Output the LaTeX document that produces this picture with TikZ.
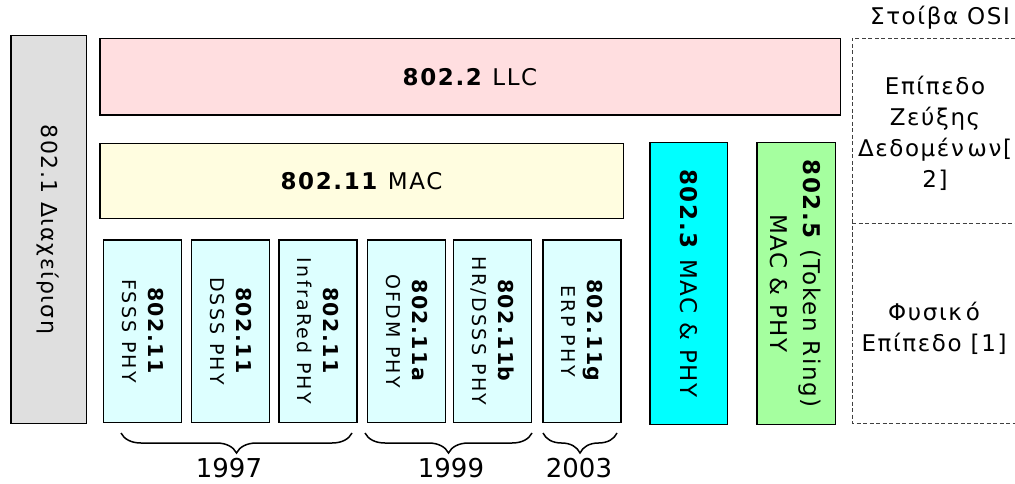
\documentclass[tikz,border=0pt]{standalone}
\usepackage{fontspec}
\setmainfont{DejaVu Sans}[LetterSpace=7]
\newfontfamily\subf{DejaVu Sans}[LetterSpace=12]
\newfontfamily\yearf{DejaVu Sans}
\usetikzlibrary{decorations.pathreplacing}
\definecolor{grayfill}{HTML}{DFDFDF}
\definecolor{llcfill}{HTML}{FFDEE0}
\definecolor{macfill}{HTML}{FFFDE0}
\definecolor{phyfill}{HTML}{DDFFFF}
\definecolor{ethfill}{HTML}{00FFFF}
\definecolor{tokfill}{HTML}{A5FF9F}
\begin{document}
\begin{tikzpicture}[x=1pt,y=-1pt,
  box/.style={draw=black, line width=1.5pt, inner sep=0pt, outer sep=0pt},
  phybox/.style={box, fill=phyfill, minimum width=78pt, minimum height=182.5pt},
  lbl/.style={font=\fontsize{23}{33}\selectfont, align=center, inner sep=0pt},
  vlbl/.style={lbl, rotate=-90},
  phylbl/.style={rotate=-90, align=center, inner sep=0pt, font=\fontsize{20.5}{26}\selectfont},
  ositxt/.style={font=\fontsize{23}{31}\selectfont, align=center, inner sep=0pt},
  osiline/.style={draw=black!75, line width=0.8pt, dash pattern=on 4pt off 2.5pt},
  yr/.style={font=\yearf\fontsize{26}{28}\selectfont, inner sep=0pt},
  brc/.style={decorate, decoration={brace, amplitude=20pt}, line width=1.5pt}
]
\useasboundingbox (0,0) rectangle (1015,484);

% boxes
\node[box, fill=grayfill, minimum width=75.5pt, minimum height=387.5pt] (mgmt) at (48.5,229.5) {};
\node[vlbl, font=\fontsize{22}{30}\selectfont] at (mgmt) {802.1 Διαχείριση};

\node[box, fill=llcfill, minimum width=740.5pt, minimum height=76.5pt] (llc) at (470,77) {};
\node[lbl] at (llc) {\textbf{802.2} LLC};

\node[box, fill=macfill, minimum width=523.5pt, minimum height=74.5pt] (mac) at (361.5,181) {};
\node[lbl] at (mac) {\textbf{802.11} MAC};

\node[phybox] (p1) at (142.5,331) {};
\node[phybox] (p2) at (230.5,331) {};
\node[phybox] (p3) at (318,331) {};
\node[phybox] (p4) at (406.5,331) {};
\node[phybox] (p5) at (492.5,331) {};
\node[phybox] (p6) at (582,331) {};

\node[phylbl] at (p1) {\textbf{802.11}\\{\subf\fontsize{19}{26}\selectfont FSSS PHY}};
\node[phylbl] at (p2) {\textbf{802.11}\\{\subf\fontsize{19}{26}\selectfont DSSS PHY}};
\node[phylbl] at (p3) {\textbf{802.11}\\{\subf\fontsize{19}{26}\selectfont InfraRed PHY}};
\node[phylbl] at (p4) {\textbf{802.11a}\\{\subf\fontsize{19}{26}\selectfont OFDM PHY}};
\node[phylbl] at (p5) {\textbf{802.11b}\\{\subf\fontsize{19}{26}\selectfont HR/DSSS PHY}};
\node[phylbl] at (p6) {\textbf{802.11g}\\{\subf\fontsize{19}{26}\selectfont ERP PHY}};

\node[box, fill=ethfill, minimum width=77.5pt, minimum height=281.5pt] (eth) at (688.5,283.5) {};
\node[vlbl] at (eth) {\textbf{802.3} MAC \& PHY};

\node[box, fill=tokfill, minimum width=78.5pt, minimum height=281.5pt] (tok) at (796,283.5) {};
\node[vlbl] at (tok) {\textbf{802.5} (Token Ring)\\MAC \& PHY};

% OSI column
\coordinate (oTR) at (1015,38);
\coordinate (oTL) at (852,38);
\coordinate (oBL) at (852,423);
\coordinate (oBR) at (1015,423);
\coordinate (oML) at (852,223);
\coordinate (oMR) at (1015,223);
\draw[osiline] (oTR) -- (oTL) -- (oBL) -- (oBR);
\draw[osiline] (oML) -- (oMR);
\node[ositxt] (osititle) at (940,18) {Στοίβα OSI};
\node[ositxt] (dll) at (935,133) {Επίπεδο\\Ζεύξης\\Δεδομέν\,ων[\\2]};
\node[ositxt] (phl) at (934,328) {Φυσικ\,ό\\Επίπεδο [1]};

% braces
\coordinate (b1r) at (352,433);
\coordinate (b1l) at (121,433);
\coordinate (b2r) at (532,433);
\coordinate (b2l) at (365,433);
\coordinate (b3r) at (617,433);
\coordinate (b3l) at (543,433);
\draw[brc] (b1r) -- (b1l);
\draw[brc] (b2r) -- (b2l);
\draw[brc] (b3r) -- (b3l);
\node[yr] (y1) at (229,468) {1997};
\node[yr] (y2) at (451,468) {1999};
\node[yr] (y3) at (579,468) {2003};
\end{tikzpicture}
\end{document}
